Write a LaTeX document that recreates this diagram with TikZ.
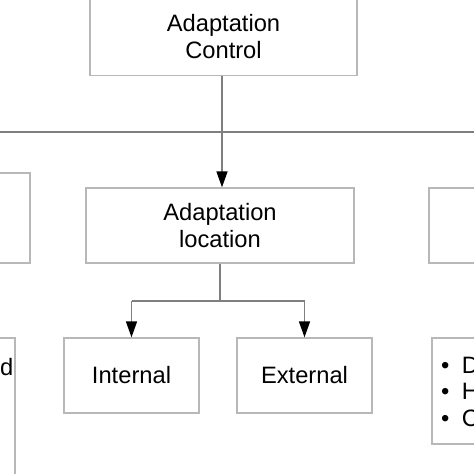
\documentclass[tikz,border=0pt]{standalone}
\usepackage{fontspec}
\setmainfont{Liberation Sans}
\usetikzlibrary{arrows.meta}
\definecolor{boxgray}{HTML}{B8B8B8}
\definecolor{linegray}{HTML}{7F7F7F}
\tikzset{
  box/.style={draw=boxgray, line width=1.3pt, fill=white, inner sep=0pt, align=center,
    font=\fontsize{23.7}{27}\selectfont, text=black},
  conn/.style={draw=linegray, line width=1.5pt},
  arr/.style={conn, -{Triangle[length=16pt,width=11pt,fill=black,color=black]}},
  lbl/.style={inner sep=0pt, font=\fontsize{23.7}{26.5}\selectfont, text=black, align=left}
}
\begin{document}
\begin{tikzpicture}[x=1pt,y=-1pt]
\useasboundingbox (0,0) rectangle (474,474);
\clip (0,0) rectangle (474,474);
\fill[white] (0,0) rectangle (474,474);
% boxes
\node[box, minimum width=267pt, minimum height=78pt] (top) at (223.5,36.5) {Adaptation\\Control};
\node[box, minimum width=268pt, minimum height=75pt] (mid) at (220,225.5) {Adaptation\\location};
\node[box, minimum width=90pt, minimum height=90pt] (left) at (-15,218) {};
\node[box, minimum width=90pt, minimum height=75pt] (right) at (474,225.5) {};
\node[box, minimum width=135pt, minimum height=75pt] (int) at (131.5,375.5) {Internal};
\node[box, minimum width=135pt, minimum height=75pt] (ext) at (304.5,375.5) {External};
\node[box, minimum width=90pt, minimum height=160pt] (lb) at (-30,418) {};
\node[lbl, anchor=base east] (lbt) at (13.5,375) {d};
\node[box, minimum width=90pt, minimum height=106pt] (rb) at (477,391) {};
\node[lbl, anchor=west] (rbt) at (441,391.5) {•\hspace{12.5pt}D\\•\hspace{12.5pt}H\\•\hspace{12.5pt}C};
% connectors
\coordinate (j) at (222,132);
\coordinate (hl) at (-10,132);
\coordinate (hr) at (484,132);
\draw[conn] (hl) -- (hr);
\draw[arr] (top.south -| j) -- (mid.north -| j);
\coordinate (b) at (220,301);
\draw[conn] (mid.south) -- (mid.south |- b);
\draw[conn] (int.north |- b) -- (ext.north |- b);
\draw[arr] (int.north |- b) -- (int.north);
\draw[arr] (ext.north |- b) -- (ext.north);
\end{tikzpicture}
\end{document}
